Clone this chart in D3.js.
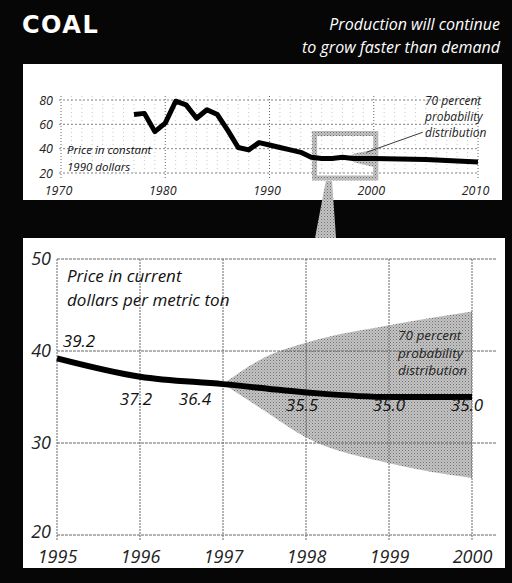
<!DOCTYPE html>
<html><head><meta charset="utf-8">
<script src="https://cdn.jsdelivr.net/npm/d3@7"></script>
<style>
html,body{margin:0;padding:0;background:#000;}
svg{display:block;}
text{font-family:"Open Sans","DejaVu Sans",sans-serif;}
.it{font-style:italic;}
</style></head>
<body>
<svg id="c" width="512" height="583"></svg>
<script>
// ---- data ----
const topYears  = [1977,1978,1979,1980,1981,1982,1983,1984,1985,1986,1987,1988,1989,1990,1991,1992,1993,1994,1995,1996,1997,1998,2000,2005,2010];
const topValues = [68,69,54,61,79,76,65,72,68,55,41,39,45,43,41,39,37,33,32,32,33,32,32,31,29];
const topBandYears = [1997.4,1998,1999,2000];
const topBandUpper = [33,35.5,37.5,39];
const topBandLower = [33,29.5,27,25];
const topYTicks = [20,40,60,80];
const topXTicks = [1970,1980,1990,2000,2010];

const botYears  = [1995,1996,1997,1998,1999,2000];
const botValues = [39.2,37.2,36.4,35.5,35.0,35.0];
const bandYears = [1997,1997.5,1998,1999,2000];
const bandUpper = [36.4,39.3,40.9,42.8,44.3];
const bandLower = [36.4,33.5,30.6,27.8,26.2];
const botYTicks = [20,30,40,50];
const botXTicks = [1995,1996,1997,1998,1999,2000];

const svg = d3.select("#c");
const defs = svg.append("defs");
const pat = defs.append("pattern").attr("id","ht").attr("width",3).attr("height",3).attr("patternUnits","userSpaceOnUse");
pat.append("rect").attr("width",3).attr("height",3).attr("fill","#c4c4c4");
pat.append("rect").attr("x",0).attr("y",0).attr("width",1).attr("height",1).attr("fill","#6e6e6e");
pat.append("rect").attr("x",1.5).attr("y",1.5).attr("width",1).attr("height",1).attr("fill","#8a8a8a");

// background
svg.append("rect").attr("width",512).attr("height",583).attr("fill","#060606");

// header
svg.append("text").attr("x",22).attr("y",33).attr("fill","#fff")
  .style("font-family","'DejaVu Sans',sans-serif").style("font-weight","bold").style("font-size","24px")
  .style("letter-spacing","1.5px").text("COAL");
svg.append("text").attr("class","it").attr("x",500).attr("y",30).attr("text-anchor","end").attr("fill","#fff")
  .style("font-size","16px").text("Production will continue");
svg.append("text").attr("class","it").attr("x",500).attr("y",53).attr("text-anchor","end").attr("fill","#fff")
  .style("font-size","16px").text("to grow faster than demand");

// panels
svg.append("rect").attr("x",23).attr("y",64).attr("width",479).attr("height",136).attr("fill","#fff");
svg.append("rect").attr("x",23).attr("y",238).attr("width",482).attr("height",330).attr("fill","#fff");

// ---- top chart ----
const tx = d3.scaleLinear().domain([1970,2010]).range([61,478]);
const ty = d3.scaleLinear().domain([20,80]).range([173,100]);
const tg = svg.append("g");
tg.selectAll("line.mv").data(d3.range(1971,2010).filter(y=>y%10!==0)).join("line")
  .attr("x1",d=>tx(d)).attr("x2",d=>tx(d)).attr("y1",96).attr("y2",176)
  .attr("stroke","#bbb").attr("stroke-width",0.8).attr("stroke-dasharray","1,3");
tg.selectAll("line.v").data(topXTicks).join("line")
  .attr("x1",d=>tx(d)).attr("x2",d=>tx(d)).attr("y1",96).attr("y2",178)
  .attr("stroke","#555").attr("stroke-width",0.9).attr("stroke-dasharray","1,2");
tg.selectAll("line.h").data(topYTicks).join("line")
  .attr("x1",tx(1970)-2).attr("x2",tx(2010)).attr("y1",d=>ty(d)).attr("y2",d=>ty(d))
  .attr("stroke","#777").attr("stroke-width",0.9).attr("stroke-dasharray","2,2");

const tBand = d3.area().x((d,i)=>tx(topBandYears[i])).y0((d,i)=>ty(topBandLower[i])).y1((d,i)=>ty(topBandUpper[i])).curve(d3.curveMonotoneX);
tg.append("path").datum(topBandYears).attr("d",tBand).attr("fill","url(#ht)");

tg.append("rect").attr("x",tx(1995)-7).attr("y",ty(50)-3).attr("width",tx(2000)-tx(1995)+9).attr("height",ty(20)-ty(50)+8)
  .attr("fill","none").attr("stroke","url(#ht)").attr("stroke-width",5);

const tLine = d3.line().x((d,i)=>tx(topYears[i])).y(d=>ty(d));
tg.append("path").datum(topValues).attr("d",tLine).attr("fill","none").attr("stroke","#000")
  .attr("stroke-width",5).attr("stroke-linejoin","round");

const tyAxis = tg.append("g").attr("transform",`translate(${tx(1970)-2},0)`)
  .call(d3.axisLeft(ty).tickValues(topYTicks).tickSize(0).tickPadding(6));
const txAxis = tg.append("g").attr("transform",`translate(0,${ty(20)})`)
  .call(d3.axisBottom(tx).tickValues(topXTicks).tickSize(0).tickPadding(13).tickFormat(d3.format("d")));
[tyAxis,txAxis].forEach(a=>{a.select(".domain").remove();
  a.selectAll("text").attr("class","it").style("font-family","'Open Sans',sans-serif").style("font-style","italic").style("font-size","12.5px").attr("fill","#222");});
txAxis.selectAll("text").attr("dx",-3);

tg.append("text").attr("class","it").attr("x",67).attr("y",154).style("font-size","11.5px").attr("fill","#111").text("Price in constant");
tg.append("text").attr("class","it").attr("x",67).attr("y",171).style("font-size","11.5px").attr("fill","#111").text("1990 dollars");

tg.append("line").attr("x1",tx(1999.3)).attr("y1",ty(37)).attr("x2",tx(2004.7)).attr("y2",ty(53.5)).attr("stroke","#222").attr("stroke-width",0.9);
["70 percent","probability","distribution"].forEach((t,i)=>
  tg.append("text").attr("class","it").attr("x",425).attr("y",105+i*16).style("font-size","12px").attr("fill","#222").text(t));

svg.append("path").attr("d",`M${tx(1995.4)},181 L${tx(1996)},181 L336,238 L315,238 Z`).attr("fill","url(#ht)");

// ---- bottom chart ----
const bx = d3.scaleLinear().domain([1995,2000]).range([57,472]);
const by = d3.scaleLinear().domain([20,50]).range([535,259]);
const bg = svg.append("g");

const band = d3.area().x((d,i)=>bx(bandYears[i])).y0((d,i)=>by(bandLower[i])).y1((d,i)=>by(bandUpper[i])).curve(d3.curveMonotoneX);
bg.append("path").datum(bandYears).attr("d",band).attr("fill","url(#ht)");

bg.selectAll("line.h").data(botYTicks).join("line")
  .attr("x1",bx(1995)).attr("x2",497).attr("y1",d=>by(d)).attr("y2",d=>by(d))
  .attr("stroke","#666").attr("stroke-width",1).attr("stroke-dasharray","3,1");
bg.selectAll("line.v").data(botXTicks).join("line")
  .attr("x1",d=>bx(d)).attr("x2",d=>bx(d)).attr("y1",by(50)).attr("y2",by(20)+6)
  .attr("stroke","#666").attr("stroke-width",1).attr("stroke-dasharray","2,1");

const bLine = d3.line().x((d,i)=>bx(botYears[i])).y(d=>by(d)).curve(d3.curveMonotoneX);
bg.append("path").datum(botValues).attr("d",bLine).attr("fill","none").attr("stroke","#000")
  .attr("stroke-width",6).attr("stroke-linecap","butt");

const byAxis = bg.append("g").attr("transform",`translate(${bx(1995)},0)`)
  .call(d3.axisLeft(by).tickValues(botYTicks).tickSize(0).tickPadding(6));
const bxAxis = bg.append("g").attr("transform",`translate(0,${by(20)})`)
  .call(d3.axisBottom(bx).tickValues(botXTicks).tickSize(0).tickPadding(15).tickFormat(d3.format("d")));
[byAxis,bxAxis].forEach(a=>{a.select(".domain").remove();
  a.selectAll("text").attr("class","it").style("font-family","'Open Sans',sans-serif").style("font-style","italic").style("font-size","18px").attr("fill","#222");});
byAxis.selectAll("text").attr("dy","0.3em");
byAxis.selectAll("text").filter(d=>d===20).attr("dy","0.12em");

bg.append("text").attr("class","it").attr("x",67).attr("y",282).style("font-size","17px").attr("fill","#111").text("Price in current");
bg.append("text").attr("class","it").attr("x",67).attr("y",306).style("font-size","17px").attr("fill","#111").text("dollars per metric ton");

const labelDx = [22,-4,-28,-4,0,-5];
const labelY  = [347,405,405,411,411,411];
bg.selectAll("text.v").data(botValues).join("text").attr("class","it")
  .attr("x",(d,i)=>bx(botYears[i])+labelDx[i]).attr("y",(d,i)=>labelY[i]).attr("text-anchor","middle")
  .style("font-size","17px").attr("fill","#111").text(d=>d.toFixed(1));

["70 percent","probability","distribution"].forEach((t,i)=>
  bg.append("text").attr("class","it").attr("x",398).attr("y",340+i*17.5).style("font-size","13.5px").attr("fill","#222").text(t));
</script>
</body></html>
